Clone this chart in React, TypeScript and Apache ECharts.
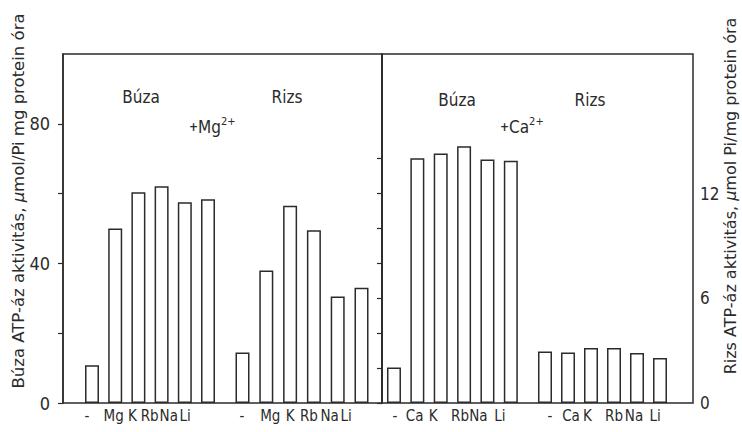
import React, { useEffect, useRef } from 'react';
import * as echarts from 'echarts';

// ---- data ----
const mgCategories = ['-', 'Mg', 'K', 'Rb', 'Na', 'Li'];
const caCategories = ['-', 'Ca', 'K', 'Rb', 'Na', 'Li'];
const buzaMg = [10.8, 50, 60.4, 62.1, 57.5, 58.4]; // left axis
const rizsMg = [2.9, 7.6, 11.3, 9.9, 6.1, 6.6]; // right axis
const buzaCa = [10.2, 70.1, 71.5, 73.6, 69.8, 69.4]; // left axis
const rizsCa = [2.95, 2.9, 3.15, 3.15, 2.87, 2.58]; // right axis

const leftMax = 100;
const rightMax = 20;
const leftTicks = [0, 20, 40, 60, 80];
const leftTickLabels = [0, 40, 80];
const rightTicks = [0, 2, 4, 6, 8, 10, 12, 14];
const rightTickLabels = [0, 6, 12];

const leftTitle = 'Búza ATP-áz aktivitás, {i|μ}mol/Pi mg protein óra';
const rightTitle = 'Rizs ATP-áz aktivitás, {i|μ}mol Pi/mg protein óra';

// hand-lettered label offsets (px) relative to bar centres
const labelShift = [
  [-5, -1.5, -6, -12, -16, -23],
  [-0.5, 4, 0, -5, -8, -15.5],
  [1, -2.7, -7.5, -4, -9, -11],
  [5, 3, -3.7, 0, -3, -5],
];

const INK = '#2b2b2b';
const FONT = "'DejaVu Sans Condensed', 'DejaVu Sans', sans-serif";

export default function App() {
  const ref = useRef<HTMLDivElement>(null);
  useEffect(() => {
    if (!ref.current) return;
    const chart = echarts.init(ref.current, undefined, { renderer: 'svg' });
    const top = 54;
    const height = 349;
    const frameGrid = { show: true, borderColor: INK, borderWidth: 1.5, backgroundColor: 'transparent' };
    const grids: any[] = [
      { left: 63, top, width: 319, height, ...frameGrid },
      { left: 382, top, width: 311, height, ...frameGrid },
      { left: 80.4, top, width: 139.2, height },
      { left: 230.6, top, width: 142.8, height },
      { left: 382.3, top, width: 140.2, height },
      { left: 533.5, top, width: 138, height },
    ];
    const catSets = [mgCategories, mgCategories, caCategories, caCategories];
    const values = [buzaMg, rizsMg, buzaCa, rizsCa];
    const maxes = [leftMax, rightMax, leftMax, rightMax];

    const xAxis: any[] = [
      { gridIndex: 0, type: 'value', show: false, min: 0, max: 1 },
      { gridIndex: 1, type: 'value', show: false, min: 0, max: 1 },
    ];
    catSets.forEach((cats, g) => {
      xAxis.push({
        gridIndex: g + 2,
        type: 'category',
        data: cats.map((c, i) => {
          const s = labelShift[g][i];
          return {
            value: c,
            textStyle: { padding: [0, Math.max(0, -2 * s), 0, Math.max(0, 2 * s)] },
          };
        }),
        axisLine: { show: false },
        axisTick: { show: false },
        axisLabel: { interval: 0, margin: 5, fontSize: 15, color: INK, fontFamily: FONT },
      });
    });

    const yAxis: any[] = [
      {
        gridIndex: 0,
        type: 'value',
        position: 'left',
        min: 0,
        max: leftMax,
        splitLine: { show: false },
        axisLine: { show: true, lineStyle: { color: INK, width: 1.5 } },
        axisTick: { show: true, length: 5, customValues: leftTicks, lineStyle: { color: INK, width: 1.2 } },
        axisLabel: { customValues: leftTickLabels, margin: 13, fontSize: 18, color: INK, fontFamily: FONT },
      },
      {
        gridIndex: 1,
        type: 'value',
        position: 'right',
        min: 0,
        max: rightMax,
        splitLine: { show: false },
        axisLine: { show: true, lineStyle: { color: INK, width: 1.5 } },
        axisTick: { show: true, inside: true, length: 5, customValues: rightTicks, lineStyle: { color: INK, width: 1.2 } },
        axisLabel: { customValues: rightTickLabels, margin: 7, fontSize: 17, color: INK, fontFamily: FONT },
      },
    ];
    maxes.forEach((m, g) => {
      yAxis.push({ gridIndex: g + 2, type: 'value', show: false, min: 0, max: m, splitLine: { show: false } });
    });

    const series = values.map((v, g) => ({
      type: 'bar',
      xAxisIndex: g + 2,
      yAxisIndex: g + 2,
      data: v,
      barWidth: 14,
      silent: true,
      itemStyle: { color: '#ffffff', borderColor: INK, borderWidth: 1.5 },
    }));

    const textStyle = (t: string, size: number) => ({
      text: t,
      fill: INK,
      fontSize: size,
      fontFamily: FONT,
      align: 'center',
      verticalAlign: 'middle',
    });
    const ion = (base: string) => ({
      text: `{p|+}${base}{s|2+}`,
      fill: INK,
      fontSize: 17,
      fontFamily: FONT,
      align: 'left',
      verticalAlign: 'middle',
      rich: {
        p: { fontSize: 12, fill: INK, fontFamily: FONT, fontWeight: 'bold' },
        s: { fontSize: 11, fill: INK, fontFamily: FONT, verticalAlign: 'top', lineHeight: 22 },
      },
    });
    const titleStyle = (t: string, size: number) => ({
      text: t,
      fill: INK,
      fontSize: size,
      fontFamily: "'DejaVu Sans', sans-serif",
      align: 'center',
      verticalAlign: 'middle',
      rich: { i: { fontStyle: 'italic', fontSize: size, fill: INK, fontFamily: "'DejaVu Sans', sans-serif" } },
    });

    chart.setOption({
      animation: false,
      backgroundColor: '#ffffff',
      textStyle: { fontFamily: FONT, color: INK },
      grid: grids,
      xAxis,
      yAxis,
      series,
      graphic: [
        { type: 'text', x: 141, y: 97, style: textStyle('Búza', 17) },
        { type: 'text', x: 287, y: 97, style: textStyle('Rizs', 17) },
        { type: 'text', x: 189, y: 127, style: ion('Mg') },
        { type: 'text', x: 457, y: 100, style: textStyle('Búza', 17) },
        { type: 'text', x: 590, y: 100, style: textStyle('Rizs', 17) },
        { type: 'text', x: 500, y: 127, style: ion('Ca') },
        { type: 'text', x: 18, y: 201, rotation: Math.PI / 2, style: titleStyle(leftTitle, 16.5) },
        { type: 'text', x: 730, y: 196, rotation: Math.PI / 2, style: titleStyle(rightTitle, 16) },
      ],
    });
    return () => chart.dispose();
  }, []);
  return (
    <div
      ref={ref}
      style={{ position: 'fixed', left: 0, top: 0, width: 742, height: 432, background: '#fff' }}
    />
  );
}
